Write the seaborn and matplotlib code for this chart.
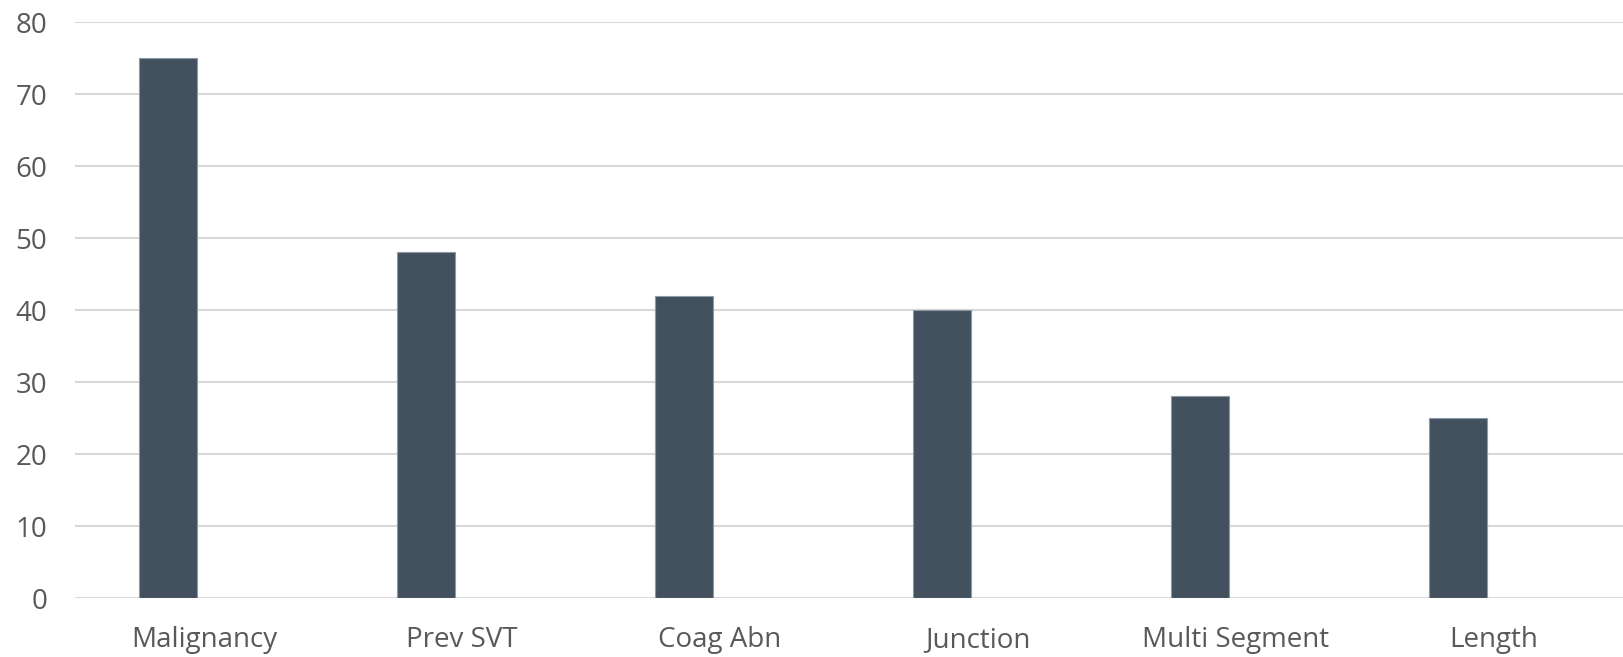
import numpy as np
import pandas as pd
import matplotlib
matplotlib.use("Agg")
import matplotlib.pyplot as plt
import seaborn as sns

categories = ["Malignancy", "Prev SVT", "Coag Abn", "Junction", "Multi Segment", "Length"]
values = [75, 48, 42, 40, 28, 25]
# second (empty) series kept so bars sit left of category centre, as in the source
empty_series = [np.nan] * len(categories)
y_ticks = [0, 10, 20, 30, 40, 50, 60, 70, 80]

df = pd.DataFrame({
    "category": categories * 2,
    "value": values + empty_series,
    "series": ["A"] * len(categories) + ["B"] * len(categories),
})

sns.set_theme(style="white")
plt.rcParams["font.family"] = ["Open Sans", "DejaVu Sans"]

fig = plt.figure(figsize=(16.23, 6.57), dpi=100)
ax = fig.add_axes([0.0462, 0.0898, 0.9538, 0.8767])

sns.barplot(
    data=df, x="category", y="value", hue="series", hue_order=["A", "B"],
    palette={"A": "#3F5061", "B": "#3F5061"}, width=0.556, gap=0.19,
    edgecolor="#8C99A6", linewidth=0.8, legend=False, ax=ax, errorbar=None,
    zorder=3,
)

ax.set_ylim(0, 80)
ax.set_xlim(-0.5, len(categories) - 0.5)
ax.set_yticks(y_ticks)
ax.yaxis.grid(True, color="#D9D9D9", linewidth=1.5, zorder=0)
ax.set_axisbelow(True)
for s in ax.spines.values():
    s.set_visible(False)
ax.set_xlabel("")
ax.set_ylabel("")
ax.tick_params(axis="both", length=0, labelsize=20, labelcolor="#595959")
ax.tick_params(axis="y", pad=20)
ax.tick_params(axis="x", pad=20)

fig.savefig("out.png", dpi=100)
